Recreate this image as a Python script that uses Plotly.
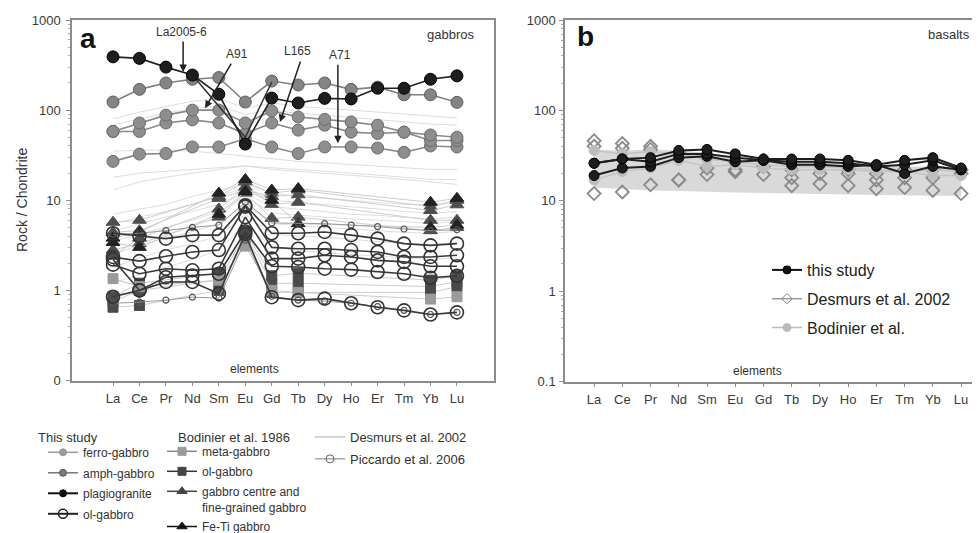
import plotly.graph_objects as go

elements = ["La", "Ce", "Pr", "Nd", "Sm", "Eu", "Gd", "Tb", "Dy", "Ho", "Er", "Tm", "Yb", "Lu"]
N = None

# ---------------- panel a : gabbros ----------------
plagiogranite = [390, 375, 300, 245, 150, 42, 136, 120, 135, 133, 175, 175, 220, 240]
plagiogranite_b = [N, N, N, 245, N, 50, 205, N, N, N, N, N, N, N]
amph_gabbro = [123, 170, 200, 220, 230, 123, 210, 190, 200, 170, 180, 148, 148, 122]
ferro_gabbro_1 = [58, 72, 88, 100, 100, 72, 98, 84, 79, 74, 68, 57, 53, 50]
ferro_gabbro_2 = [58, 58, 72, 78, 72, 55, 72, 60, 68, 57, 55, 57, 46, 46]
ferro_gabbro_3 = [27, 32.5, 33, 39, 39, 48, 39, 33, 39, 39, 38, 34, 40, 39]

ol_gabbro_1 = [4.3, 4.0, 3.75, 4.1, 4.1, 8.8, 4.3, 4.3, 4.45, 4.1, 3.75, 3.3, 3.16, 3.3]
ol_gabbro_2 = [2.35, 2.11, 2.39, 2.67, 2.8, 8.5, 3.0, 2.9, 2.9, 2.8, 2.67, 2.35, 2.35, 2.45]
ol_gabbro_3 = [1.93, 1.53, 1.74, 1.67, 1.74, 6.5, 2.25, 2.25, 2.45, 2.35, 2.15, 2.07, 1.85, 1.85]
ol_gabbro_4 = [2.2, 1.0, 1.4, 1.46, 1.53, 4.5, 1.85, 1.82, 1.74, 1.7, 1.6, 1.53, 1.38, 1.45]
ol_gabbro_5 = [0.85, 1.0, 1.24, 1.24, 0.92, 4.2, 0.84, 0.78, 0.81, 0.72, 0.65, 0.6, 0.54, 0.57]

piccardo_1 = [0.72, 0.74, 0.78, 0.84, 0.82, 3.6, 0.86, 0.78, 0.76, 0.72, 0.66, 0.6, 0.54, 0.57]
piccardo_2 = [4.2, 4.3, 4.6, 5.0, 5.3, 9.5, 5.6, 5.6, 5.5, 5.3, 5.1, 4.8, 4.6, 4.7]

# Bodinier et al. 1986 (no Pr, Nd, Dy, Ho, Er, Tm)
gabbro_centre_1 = [5.7, 6.0, N, N, 11, 16, 12, 13, N, N, N, N, 8.5, 10]
gabbro_centre_2 = [4.4, 4.6, N, N, 10.5, 13, 11, 11.5, N, N, N, N, 7.7, 8.9]
gabbro_centre_3 = [2.8, 3.3, N, N, 6.5, 12, 6.3, 6.5, N, N, N, N, 4.6, 5.0]
gabbro_centre_4 = [2.4, 3.8, N, N, 8.0, 14, 9.0, 9.5, N, N, N, N, 6.0, 6.0]
fe_ti_gabbro_1 = [3.8, 4.4, N, N, 12, 17, 13, 13.5, N, N, N, N, 9.5, 10.5]
fe_ti_gabbro_2 = [3.4, 3.0, N, N, 7.0, 12.5, 10, 5.5, N, N, N, N, 5.0, 5.3]
b_ol_gabbro_1 = [0.65, 0.68, N, N, 1.0, 3.8, 0.95, 0.95, N, N, N, N, 0.95, 1.1]
b_ol_gabbro_2 = [0.75, 1.0, N, N, 1.3, 4.2, 1.2, 1.2, N, N, N, N, 1.1, 1.25]
b_ol_gabbro_3 = [0.85, 1.2, N, N, 1.55, 4.5, 1.45, 1.55, N, N, N, N, 1.3, 1.45]
meta_gabbro_1 = [1.35, 1.1, N, N, 1.3, 3.1, 1.0, 0.95, N, N, N, N, 0.8, 0.85]

# Desmurs et al. 2002 (faint lines)
desmurs_a = [
    [80, 95, 110, 125, 135, 105, 120, 110, 105, 100, 95, 90, 85, 82],
    [68, 80, 92, 105, 110, 90, 100, 92, 88, 83, 78, 74, 70, 68],
    [35, 36, 36, 35, 33, 31, 29, 27, 26, 25, 24, 23, 22, 22],
    [13, 16, 18, 20, 22, 24, 23, 22, 21, 20, 19, 18, 17, 17],
    [18, 20, 21, 22, 23, 24, 22, 21, 20, 19, 18, 17, 16, 15],
    [7, 8, 9, 11, 13, 15, 12, 11, 10.5, 10, 9.5, 9, 9, 9.5],
    [5.5, 6.5, 7.5, 9, 11, 14, 10, 9.5, 9, 8.5, 8, 7.5, 7.2, 7.5],
    [4.5, 5.5, 6.5, 7.5, 9, 12, 8.5, 8, 7.5, 7, 6.8, 6.5, 6.2, 6.5],
    [3.5, 4.2, 5, 6, 7.5, 11, 7.2, 6.8, 6.5, 6.2, 6.0, 5.8, 5.5, 5.8],
    [2.5, 3.2, 3.8, 4.5, 5.5, 9, 5.5, 5.2, 5.0, 4.8, 4.6, 4.4, 4.3, 4.5],
    [1.8, 2.3, 2.8, 3.3, 4.0, 7, 4.2, 4.0, 3.9, 3.7, 3.5, 3.3, 3.2, 3.4],
    [1.2, 1.5, 1.8, 2.2, 2.8, 5.5, 3.0, 2.8, 2.6, 2.5, 2.4, 2.3, 2.2, 2.3],
]

# ---------------- panel b : basalts ----------------
basalt_this_1 = [26, 29, 30, 36, 37, 33, 29, 29, 29, 28, 25, 28, 30, 23]
basalt_this_2 = [19, 23, 24, 30, 31, 27, 28, 25, 25, 24, 25, 20, 24, 22]
basalt_this_3 = [26, 29, 27, 33, 33, 30, 28, 27, 27, 26, 24, 25, 28, 22]
basalt_bodinier_1 = [17, 21, 23, 28, 24, 25, 23, 22, 22, 22, 21, 21, 19, 19]
basalt_bodinier_2 = [36, 33, 35, 33, 29, 27, 25, 24, 24, 23, 22, 21, 22, 21]
basalt_desmurs_1 = [46, 43, 40, 34, 30, 27, 28, 22, 25, 22, 20, 22, 22, 22]
basalt_desmurs_2 = [40, 38, 37, 17, 23, 22, 24, 18, 20, 20, 17, 18, 18, 20]
basalt_desmurs_3 = [12, 12.5, 15, 17, 19.5, 21, 19.5, 14.7, 15.4, 14.7, 13.6, 14, 13, 12]
band_upper = [37, 36, 37, 36, 34, 31, 29, 28, 27, 26, 25, 24, 24, 23]
band_lower = [14, 13.5, 13, 12.8, 12.5, 12.3, 12.2, 12, 11.8, 11.7, 11.6, 11.5, 11.4, 11.3]

FONT = "Liberation Sans, Arial, sans-serif"
fig = go.Figure()


def add(y, ax="a", mode="lines+markers", lc="#777", lw=1.5, symbol="circle", ms=12,
        mc="#888", mlc="#555", mlw=1, gaps=False):
    xa, ya = ("x", "y") if ax == "a" else ("x2", "y2")
    fig.add_trace(go.Scatter(
        x=elements, y=y, xaxis=xa, yaxis=ya, mode=mode, connectgaps=gaps,
        line=dict(color=lc, width=lw),
        marker=dict(symbol=symbol, size=ms, color=mc, line=dict(color=mlc, width=mlw)),
        showlegend=False, hoverinfo="skip"))


# Desmurs faint lines
for s in desmurs_a:
    add(s, mode="lines", lc="#dddddd", lw=1)
# Bodinier
for s in [b_ol_gabbro_1, b_ol_gabbro_2, b_ol_gabbro_3]:
    add(s, lc="#cccccc", lw=1, symbol="square", ms=10, mc="#4a4a4a", mlc="#4a4a4a", gaps=True)
add(meta_gabbro_1, lc="#cccccc", lw=1, symbol="square", ms=10, mc="#9a9a9a", mlc="#9a9a9a", gaps=True)
for s in [gabbro_centre_1, gabbro_centre_2, gabbro_centre_3, gabbro_centre_4]:
    add(s, lc="#cccccc", lw=1, symbol="triangle-up", ms=12, mc="#4d4d4d", mlc="#4d4d4d", gaps=True)
for s in [fe_ti_gabbro_1, fe_ti_gabbro_2]:
    add(s, lc="#cccccc", lw=1, symbol="triangle-up", ms=12, mc="#222", mlc="#222", gaps=True)
# Piccardo
for s in [piccardo_1, piccardo_2]:
    add(s, lc="#999", lw=1, symbol="circle-open", ms=6, mc="#555", mlw=1.2)
# this study ol-gabbro
for s in [ol_gabbro_1, ol_gabbro_2, ol_gabbro_3, ol_gabbro_4, ol_gabbro_5]:
    add(s, lc="#3a3a3a", lw=1.6, symbol="circle-open", ms=13, mc="#333", mlw=1.6)
# ferro / amph
for s in [ferro_gabbro_3, ferro_gabbro_2, ferro_gabbro_1]:
    add(s, lc="#8a8a8a", lw=1.6, ms=12, mc="#8e8e8e", mlc="#6a6a6a")
add(amph_gabbro, lc="#808080", lw=1.6, ms=12, mc="#848484", mlc="#5e5e5e")
add(plagiogranite_b, mode="lines", lc="#333", lw=1.5, gaps=True)
add(plagiogranite, lc="#222", lw=1.6, ms=12, mc="#1e1e1e", mlc="#000")

# panel b
fig.add_trace(go.Scatter(x=elements, y=band_lower, xaxis="x2", yaxis="y2", mode="lines",
                         line=dict(width=0, color="#d9d9d9"), showlegend=False, hoverinfo="skip"))
fig.add_trace(go.Scatter(x=elements, y=band_upper, xaxis="x2", yaxis="y2", mode="lines",
                         fill="tonexty", fillcolor="#d9d9d9", line=dict(width=0, color="#d9d9d9"),
                         showlegend=False, hoverinfo="skip"))
for s in [basalt_desmurs_1, basalt_desmurs_2, basalt_desmurs_3]:
    add(s, ax="b", mode="markers", symbol="diamond-open", ms=10, mc="#8a8a8a", mlw=1.8)
for s in [basalt_bodinier_1, basalt_bodinier_2]:
    add(s, ax="b", lc="#c4c4c4", lw=1.5, ms=10, mc="#bdbdbd", mlc="#bdbdbd")
for s in [basalt_this_2, basalt_this_3, basalt_this_1]:
    add(s, ax="b", lc="#1e1e1e", lw=2, ms=10, mc="#1e1e1e", mlc="#000")


# ---------------- legends (sample entries) ----------------
def leg(name, legend, group, mode="lines+markers", lc="#777", lw=1.5, symbol="circle", ms=7,
        mc="#888", mlc="#555", mlw=1):
    fig.add_trace(go.Scatter(
        x=[None], y=[None], name=name, legend=legend, legendgroup=group, mode=mode,
        line=dict(color=lc, width=lw),
        marker=dict(symbol=symbol, size=ms, color=mc, line=dict(color=mlc, width=mlw)),
        showlegend=True, hoverinfo="skip"))


leg("ferro-gabbro", "legend", "a1", lc="#999", mc="#999", mlc="#999")
leg("amph-gabbro", "legend", "a2", lc="#777", mc="#7a7a7a", mlc="#555")
leg("plagiogranite", "legend", "a3", lc="#111", mc="#111", mlc="#000", lw=2)
leg("ol-gabbro", "legend", "a4", lc="#222", symbol="circle-open", ms=9, mc="#222", mlw=1.5, lw=2)

leg("meta-gabbro", "legend2", "b1", lc="#888", symbol="square", mc="#9a9a9a", mlc="#9a9a9a", ms=8)
leg("ol-gabbro", "legend2", "b2", lc="#333", symbol="square", mc="#444", mlc="#444", ms=8)
leg("gabbro centre and<br>fine-grained gabbro", "legend2", "b3", lc="#444", symbol="triangle-up",
    mc="#444", mlc="#444", ms=9)
leg("Fe-Ti gabbro", "legend2", "b4", lc="#111", symbol="triangle-up", mc="#111", mlc="#111", ms=9)

leg("Desmurs et al. 2002", "legend3", "c1", mode="lines", lc="#aaa", lw=1)
leg("Piccardo et al. 2006", "legend3", "c2", lc="#777", symbol="circle-open", mc="#666", ms=8, lw=1)

leg("this study", "legend4", "d1", lc="#111", mc="#111", mlc="#000", lw=2, ms=8)
leg("Desmurs et al. 2002", "legend4", "d2", lc="#999", symbol="diamond-open", mc="#888", ms=8)
leg("Bodinier et al.", "legend4", "d3", lc="#bbb", mc="#bbb", mlc="#bbb", ms=8)

# page is offset by the 8px body margin; coordinates below are in page pixels
OFF = 8
W, H = 980 - OFF, 533 - OFF


def px(x):
    return (x - OFF) / W


def py(y):
    return 1 - (y - OFF) / H


axis_common = dict(showline=True, linecolor="#8c8c8c", linewidth=1.5, ticks="outside",
                   ticklen=4, tickcolor="#8c8c8c", showgrid=False, zeroline=False,
                   tickfont=dict(family=FONT, size=13, color="#3a3a3a"), automargin=False)

yticks = [0.1, 1, 10, 100, 1000]
yticktext_a = ["0", "1", "10", "100", "1000"]
yticktext_b = ["0.1", "1", "10", "100", "1000"]

fig.update_layout(
    template="none",
    width=W, height=H, margin=dict(l=0, r=0, t=0, b=0, autoexpand=False),
    paper_bgcolor="white", plot_bgcolor="white",
    font=dict(family=FONT, color="#333"),
    xaxis=dict(domain=[px(72), px(494)], range=[-1.55, 14.4], type="category",
               mirror=True, anchor="y", ticklabelstandoff=1, **axis_common),
    yaxis=dict(domain=[py(380.5), py(20)], range=[-1, 3], type="log", mirror=True,
               anchor="x", tickvals=yticks, ticktext=yticktext_a, ticklabelstandoff=3,
               minor=dict(ticks="outside", ticklen=2, tickcolor="#aaa", dtick="D1"), **axis_common),
    xaxis2=dict(domain=[px(565), 1.0], range=[-1.03, 13.67], type="category",
                mirror=True, anchor="y2", ticklabelstandoff=1, **axis_common),
    yaxis2=dict(domain=[py(381.5), py(20)], range=[-1, 3], type="log", mirror=False,
                anchor="x2", tickvals=yticks, ticktext=yticktext_b, ticklabelstandoff=1,
                minor=dict(ticks="outside", ticklen=2, tickcolor="#aaa", dtick="D1"), **axis_common),
)

legend_common = dict(xanchor="left", yanchor="top", bgcolor="rgba(0,0,0,0)", borderwidth=0,
                     itemwidth=30, traceorder="grouped", itemclick=False, itemdoubleclick=False,
                     valign="top", maxheight=300)
fig.update_layout(
    legend=dict(x=px(43), y=py(438), font=dict(family=FONT, size=12, color="#333"),
                tracegroupgap=1.5, **legend_common),
    legend2=dict(x=px(162), y=py(437), font=dict(family=FONT, size=12, color="#333"),
                 tracegroupgap=1, **legend_common),
    legend3=dict(x=px(310), y=py(422), font=dict(family=FONT, size=13, color="#333"),
                 tracegroupgap=2, **legend_common),
    legend4=dict(x=px(767), y=py(253), font=dict(family=FONT, size=16, color="#222"),
                 tracegroupgap=5, **legend_common),
)

ann = []


def text(x, y, t, size=13, bold=False, xanchor="center", angle=0, color="#333"):
    ann.append(dict(x=px(x), y=py(y), xref="paper", yref="paper", text=("<b>%s</b>" % t) if bold else t,
                    showarrow=False, xanchor=xanchor, yanchor="middle", textangle=angle,
                    font=dict(family=FONT, size=size, color=color)))


text(22, 200, "Rock / Chondrite", size=14, angle=-90)
text(255, 369, "elements", size=12)
text(757, 371, "elements", size=12)
text(78, 38, "a", size=28, bold=True, xanchor="left", color="#111")
text(575, 36, "b", size=28, bold=True, xanchor="left", color="#111")
text(476, 35, "gabbros", size=13, xanchor="right")
text(972, 35, "basalts", size=13, xanchor="right")
text(36, 437, "This study", size=13, xanchor="left")
text(176, 437, "Bodinier et al. 1986", size=13, xanchor="left")
text(181, 32, "La2005-6", size=12)
text(237, 54, "A91", size=12)
text(297, 51, "L165", size=12)
text(340, 55, "A71", size=12)

# arrows (tips in data coordinates of panel a)
arrows = [(2.65, 2.422, 0, -32), (3.48, 2.022, 27, -46), (6.31, 1.867, 21, -62), (8.50, 1.633, 0, -80)]
for xt, yt, dx, dy in arrows:
    ann.append(dict(x=xt, y=yt, xref="x", yref="y", text="", showarrow=True, ax=dx, ay=dy,
                    arrowhead=2, arrowsize=1, arrowwidth=1.5, arrowcolor="#222", standoff=0))

fig.update_layout(annotations=ann)
fig.write_html("out.html")
